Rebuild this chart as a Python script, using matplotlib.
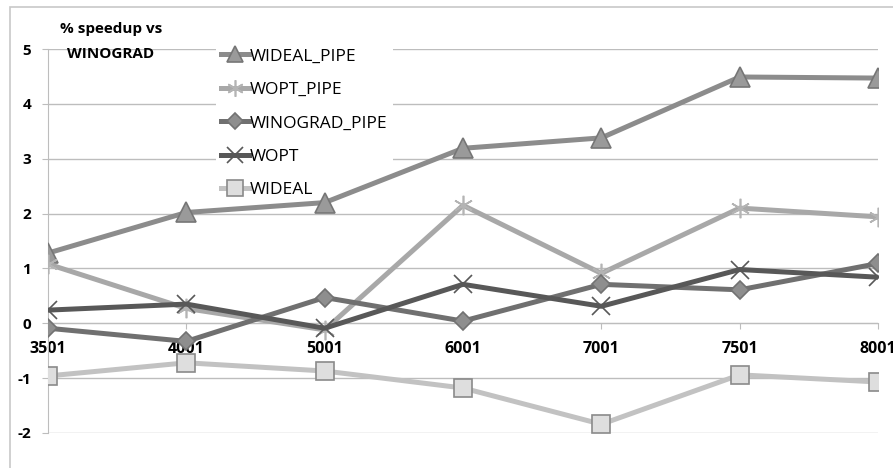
import matplotlib.pyplot as plt
from matplotlib.patches import Rectangle

plt.rcParams['font.family'] = ['Open Sans', 'DejaVu Sans']

sizes = ['3501', '4001', '5001', '6001', '7001', '7501', '8001']

wideal_pipe = [1.28, 2.02, 2.20, 3.19, 3.38, 4.49, 4.47]
wopt_pipe = [1.08, 0.27, -0.12, 2.15, 0.91, 2.10, 1.94]
winograd_pipe = [-0.09, -0.33, 0.47, 0.04, 0.71, 0.61, 1.09]
wopt = [0.24, 0.35, -0.09, 0.71, 0.31, 0.98, 0.84]
wideal = [-0.96, -0.72, -0.87, -1.18, -1.84, -0.94, -1.07]

y_ticks = [-2, -1, 0, 1, 2, 3, 4, 5]

fig = plt.figure(figsize=(8.93, 4.68), dpi=100)
# outer chart frame (cropped at right / bottom like the screenshot)
fig.patches.append(Rectangle((10 / 893, -0.1), 1.0, 1 - 7 / 468 + 0.1,
                             transform=fig.transFigure, fill=False,
                             edgecolor='#c8c8c8', linewidth=1.2))

ax = fig.add_axes([48 / 893, 1 - 433 / 468, 830 / 893, 384 / 468])
x = list(range(len(sizes)))

# spine position first, it resets the tick labels
for s in ('top', 'right'):
    ax.spines[s].set_visible(False)
ax.spines['bottom'].set_position(('data', 0))
ax.spines['bottom'].set_color('#bdbdbd')
ax.spines['left'].set_color('#bdbdbd')

# series: (values, label, line colour, marker, marker face, marker edge, marker size)
series = [
    (wideal_pipe, 'WIDEAL_PIPE', '#8c8c8c', '^', '#9a9a9a', '#767676', 14),
    (wopt_pipe, 'WOPT_PIPE', '#a8a8a8', (6, 2, 0), '#c8c8c8', '#b4b4b4', 14),
    (winograd_pipe, 'WINOGRAD_PIPE', '#707070', 'D', '#8e8e8e', '#727272', 9),
    (wopt, 'WOPT', '#585858', 'x', '#585858', '#585858', 13),
    (wideal, 'WIDEAL', '#c2c2c2', 's', '#dedede', '#8a8a8a', 13),
]
for vals, label, col, mk, mfc, mec, ms in series:
    ax.plot(x, vals, color=col, linewidth=3.6, marker=mk, markersize=ms,
            markerfacecolor=mfc, markeredgecolor=mec, markeredgewidth=1.2,
            label=label, zorder=3)

ax.set_xlim(0, len(sizes) - 1)
ax.set_ylim(-2, 5)
ax.set_yticks(y_ticks)
ax.set_yticklabels([str(v) for v in y_ticks], fontweight='bold', fontsize=11)
ax.set_xticks(x)
ax.set_xticklabels(sizes, fontweight='bold', fontsize=11.5)
ax.grid(axis='y', color='#bdbdbd', linewidth=1)
ax.set_axisbelow(True)
ax.tick_params(axis='y', length=4, color='#bdbdbd', pad=8)
ax.tick_params(axis='x', length=4, color='#bdbdbd', pad=9, direction='out')

leg = ax.legend(loc='upper left', bbox_to_anchor=(216 / 893, 1 - 43 / 468),
                bbox_transform=fig.transFigure, fontsize=12.5, frameon=True,
                framealpha=1, edgecolor='none', facecolor='white',
                handlelength=1.6, handletextpad=0.05, labelspacing=1.0,
                borderpad=0.3, borderaxespad=0, fancybox=False,
                markerscale=0.85)
leg.set_zorder(2)

fig.text(60 / 893, 1 - 29 / 468, '% speedup vs', fontweight='bold',
         fontsize=11, va='center', ha='left')
fig.text(67 / 893, 1 - 54 / 468, 'WINOGRAD', fontweight='bold',
         fontsize=11, va='center', ha='left')

fig.savefig('out.png', dpi=100)
